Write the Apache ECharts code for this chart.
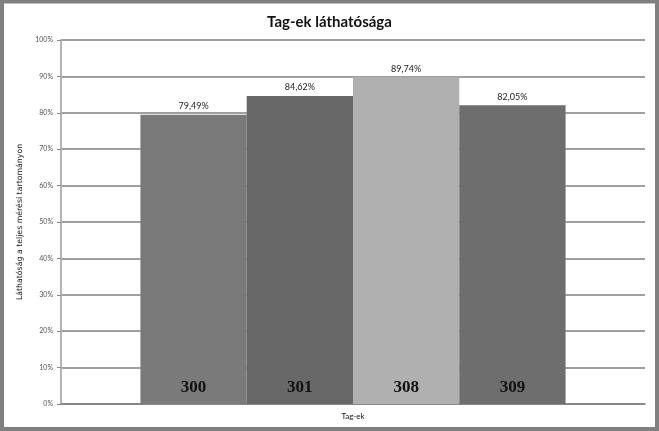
<!DOCTYPE html>
<html>
<head>
<meta charset="utf-8">
<script src="https://cdn.jsdelivr.net/npm/echarts@6/dist/echarts.min.js"></script>
<style>
html,body{margin:0;padding:0;background:#fff;}
#c{width:659px;height:431px;}
</style>
</head>
<body>
<div id="c"></div>
<script>
const tags = ['300', '301', '308', '309'];
const visibility = [79.49, 84.62, 89.74, 82.05];
const barColors = ['#7a7a7a', '#686868', '#b0b0b0', '#6e6e6e'];
const yTicks = [0, 10, 20, 30, 40, 50, 60, 70, 80, 90, 100];

const chart = echarts.init(document.getElementById('c'));
const series = tags.map((t, i) => ({
  name: t,
  type: 'bar',
  barGap: '0%',
  barCategoryGap: '27.2%',
  data: [visibility[i]],
  itemStyle: { color: barColors[i] },
  label: {
    show: true,
    position: 'top',
    distance: 4,
    fontFamily: 'Lato, sans-serif',
    fontSize: 9,
    color: '#222',
    formatter: p => p.value.toFixed(2).replace('.', ',') + '%'
  }
}));
// inner bottom labels (tag names)
tags.forEach((t, i) => {
  series.push({
    name: t + '_lbl',
    type: 'bar',
    barGap: '0%',
    barCategoryGap: '27.2%',
    data: [visibility[i]],
    itemStyle: { color: 'rgba(0,0,0,0)' },
    label: {
      show: true,
      position: 'insideBottom',
      distance: 8,
      fontFamily: '"Liberation Serif", serif',
      fontWeight: 'bold',
      fontSize: 17,
      color: '#111',
      formatter: () => t
    },
    silent: true
  });
});
chart.setOption({
  animation: false,
  backgroundColor: '#fff',
  title: {
    text: 'Tag-ek láthatósága',
    left: 'center',
    top: 10,
    textStyle: { fontFamily: 'Lato, sans-serif', fontWeight: 'bold', fontSize: 15, color: '#111' }
  },
  graphic: [{
    type: 'rect',
    shape: { x: 2, y: 1.5, width: 655, height: 427.5 },
    style: { fill: 'none', stroke: '#808080', lineWidth: 4 },
    silent: true
  }],
  grid: { left: 61, right: 14, top: 40, bottom: 27 },
  xAxis: [{
    type: 'category',
    data: [''],
    axisLine: { lineStyle: { color: '#808080', width: 1.5 } },
    axisTick: { show: false },
    axisLabel: { show: false },
    name: 'Tag-ek',
    nameLocation: 'middle',
    nameGap: 8,
    nameTextStyle: { fontFamily: 'Lato, sans-serif', fontSize: 8, color: '#111' }
  }, {
    type: 'category',
    data: [''],
    show: false
  }],
  yAxis: {
    type: 'value',
    min: 0,
    max: 100,
    interval: 10,
    name: 'Láthatóság a teljes mérési tartományon',
    nameLocation: 'middle',
    nameGap: 31,
    nameTextStyle: { fontFamily: '"DejaVu Sans", sans-serif', fontSize: 7.8, color: '#111' },
    axisLine: { show: true, lineStyle: { color: '#b4b4b4', width: 2 } },
    axisTick: { show: true, length: 4, lineStyle: { color: '#888' } },
    axisLabel: {
      fontFamily: 'Lato, sans-serif',
      fontSize: 7,
      color: '#555',
      margin: 8,
      formatter: v => yTicks.includes(v) ? v + '%' : ''
    },
    splitLine: { lineStyle: { color: '#808080', width: 1.5 } }
  },
  series: series.map((s, i) => Object.assign(s, { xAxisIndex: i < 4 ? 0 : 1 }))
});
</script>
</body>
</html>
